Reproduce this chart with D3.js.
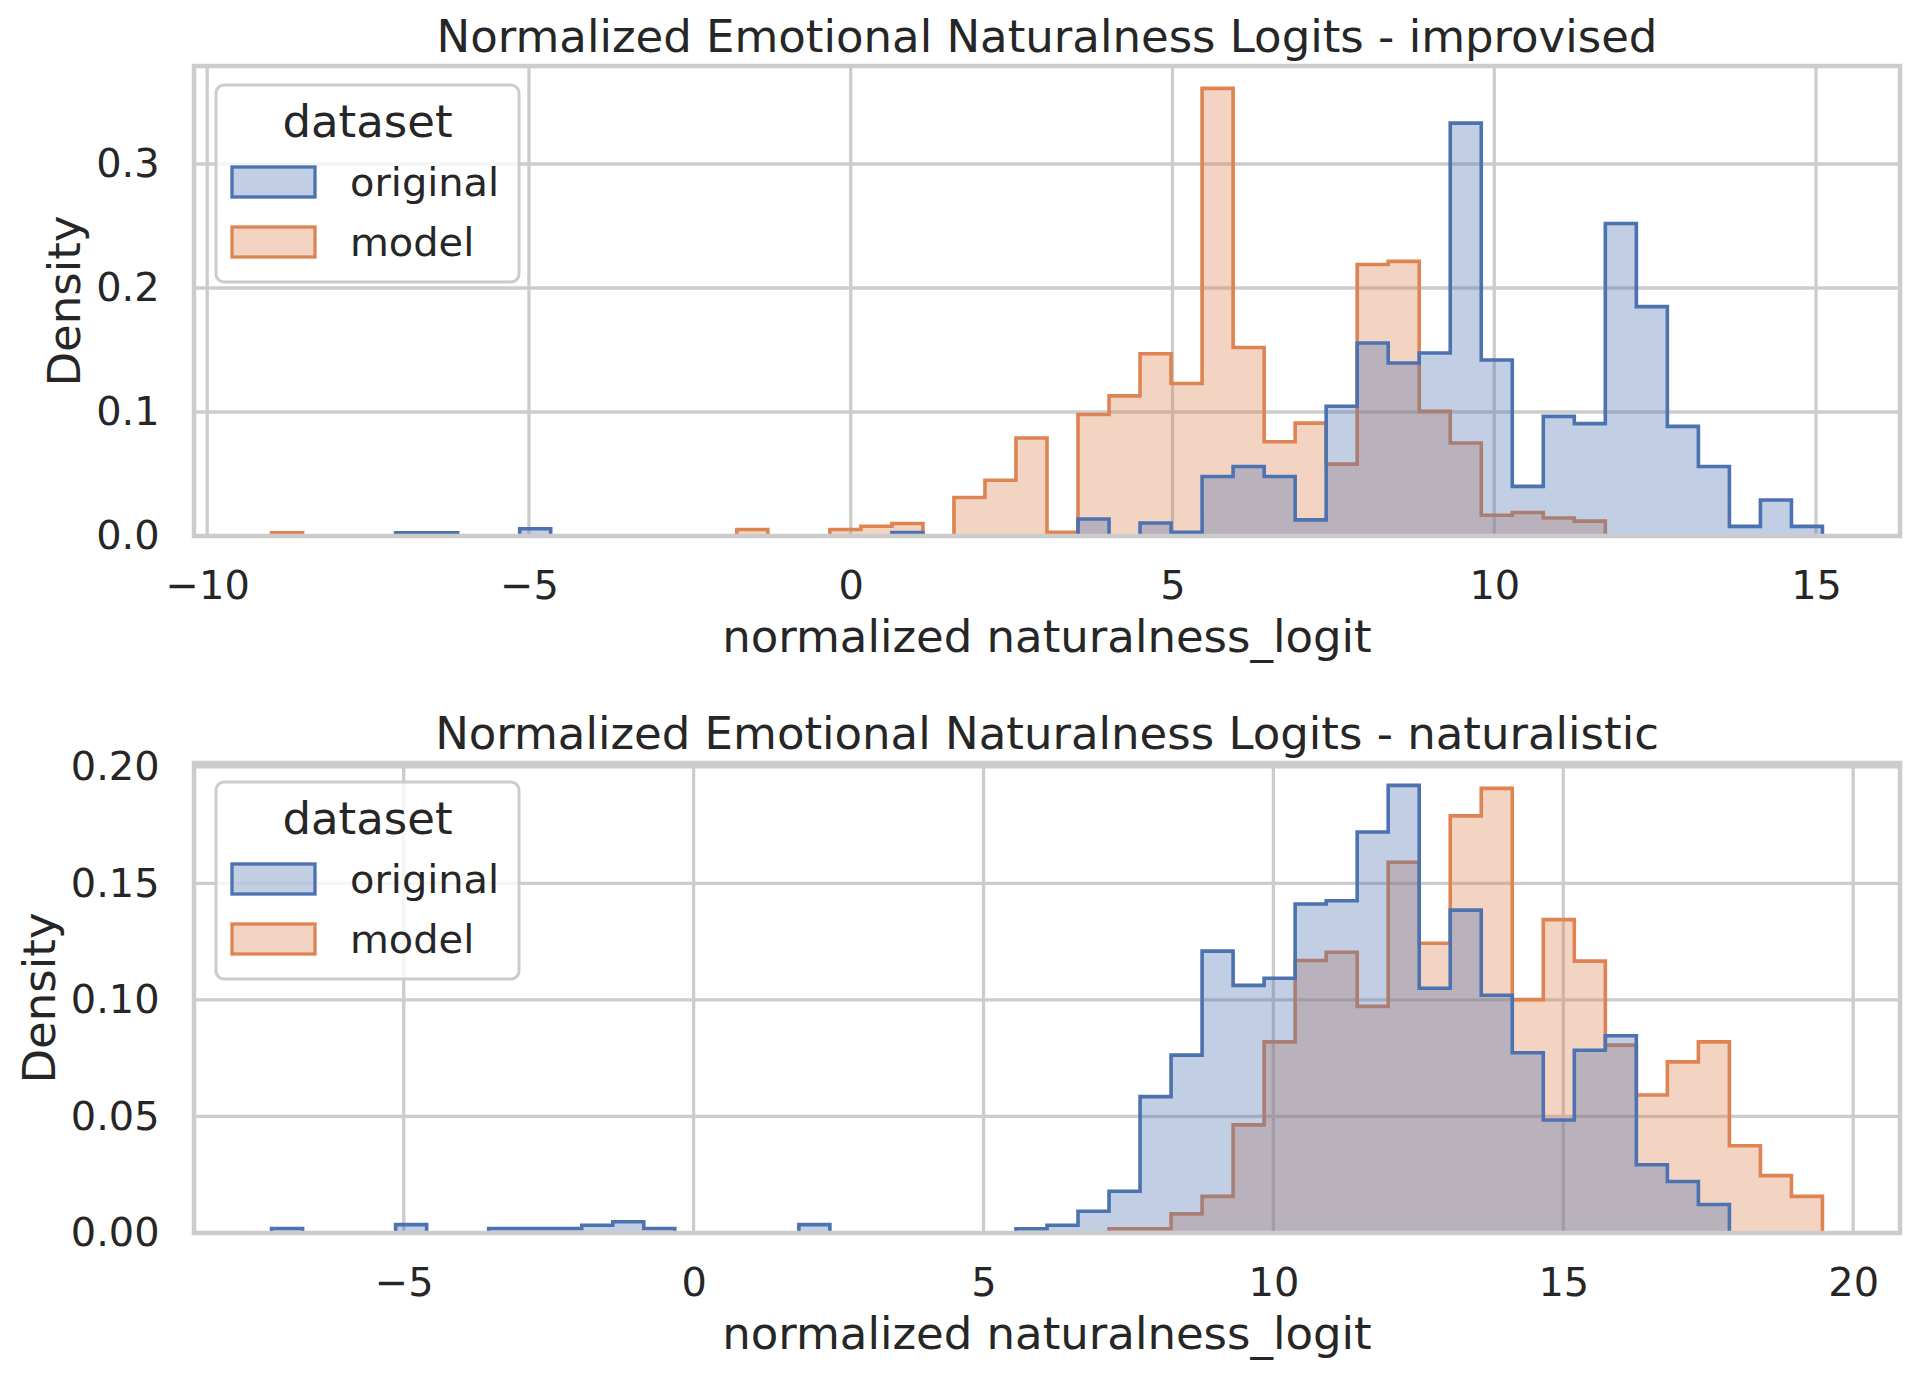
<!DOCTYPE html>
<html>
<head>
<meta charset="utf-8">
<script src="https://cdn.jsdelivr.net/npm/d3@7"></script>
<style>
  body { margin: 0; background: #fff; }
  text { font-family: "DejaVu Sans", sans-serif; fill: #262626; }
</style>
</head>
<body>
<div class="chart"></div>
<script>
// ---------- data (densities per bin, 50 common bins per panel) ----------
const seriesNames = ["original", "model"]

const improvisedEdgeMin = -9.0
const improvisedEdgeMax = 15.1
const improvisedOriginal = [
  0, 0, 0, 0, 0.0026, 0.0026, 0, 0, 0.0058, 0,
  0, 0, 0, 0, 0, 0, 0, 0, 0, 0,
  0.0028, 0, 0, 0, 0, 0, 0.0137, 0, 0.0105, 0.003,
  0.048, 0.056, 0.048, 0.013, 0.1046, 0.1556, 0.1395, 0.1476, 0.333, 0.142,
  0.040, 0.0965, 0.0906, 0.252, 0.185, 0.0884, 0.056, 0.0078, 0.029, 0.0078
]
const improvisedModel = [
  0.0026, 0, 0, 0, 0, 0, 0, 0, 0, 0,
  0, 0, 0, 0, 0, 0.0052, 0, 0, 0.0052, 0.0079,
  0.0101, 0, 0.031, 0.045, 0.079, 0.003, 0.098, 0.113, 0.147, 0.123,
  0.361, 0.152, 0.076, 0.091, 0.058, 0.219, 0.2215, 0.1005, 0.075, 0.0167,
  0.019, 0.0145, 0.012, 0, 0, 0, 0, 0, 0, 0
]
const improvisedXTicks = [-10, -5, 0, 5, 10, 15]
const improvisedYTicks = [0, 0.1, 0.2, 0.3]

const naturalisticEdgeMin = -7.28
const naturalisticEdgeMax = 19.47
const naturalisticOriginal = [
  0.0019, 0, 0, 0, 0.0036, 0, 0, 0.0019, 0.0019, 0.0019,
  0.0033, 0.0048, 0.0019, 0, 0, 0, 0, 0.0036, 0, 0,
  0, 0, 0, 0, 0.0018, 0.0033, 0.0093, 0.0179, 0.0585, 0.0763,
  0.1209, 0.1062, 0.1093, 0.1411, 0.1425, 0.172, 0.192, 0.105, 0.1385, 0.102,
  0.0773, 0.0485, 0.0784, 0.0846, 0.0293, 0.0221, 0.0122, 0, 0, 0
]
const naturalisticModel = [
  0, 0, 0, 0, 0, 0, 0, 0, 0, 0,
  0, 0, 0, 0, 0, 0, 0, 0, 0, 0,
  0, 0, 0, 0, 0, 0, 0, 0.0018, 0.0018, 0.0082,
  0.0157, 0.0464, 0.082, 0.1169, 0.1204, 0.0972, 0.159, 0.1243, 0.1789, 0.1907,
  0.1001, 0.1344, 0.1166, 0.0806, 0.0592, 0.0734, 0.082, 0.0374, 0.0246, 0.0157
]
const naturalisticXTicks = [-5, 0, 5, 10, 15, 20]
const naturalisticYTicks = [0, 0.05, 0.10, 0.15, 0.20]

// ---------- layout ----------
const W = 1918, H = 1377
const colors = { original: "#4C72B0", model: "#DD8452" }
const gridColor = "#cccccc"
const fillAlpha = 0.35
const tickPad = 34.4
const bigFont = "45px"
const smallFont = "39.9px"

const svg = d3.select(".chart").append("svg")
  .attr("width", W).attr("height", H)
  .style("display", "block")

const minus = (v) => String(v).replace("-", "\u2212")

function drawPanel(p) {
  const left = 194, right = 1900
  const g = svg.append("g")

  const n = p.original.length
  const binW = (p.edgeMax - p.edgeMin) / n
  const edges = d3.range(n + 1).map((i) => p.edgeMin + i * binW)
  const span = p.edgeMax - p.edgeMin
  const ymax = d3.max(p.original.concat(p.model)) * 1.05

  const x = d3.scaleLinear()
    .domain([p.edgeMin - span * 0.05, p.edgeMax + span * 0.05])
    .range([left, right])
  const y = d3.scaleLinear()
    .domain([0, ymax])
    .range([p.bottom, p.top])

  // grid
  g.selectAll(".gx").data(p.xTicks).enter().append("line")
    .attr("x1", (d) => x(d)).attr("x2", (d) => x(d))
    .attr("y1", p.top).attr("y2", p.bottom)
    .attr("stroke", gridColor).attr("stroke-width", 3.3)
  g.selectAll(".gy").data(p.yTicks).enter().append("line")
    .attr("x1", left).attr("x2", right)
    .attr("y1", (d) => y(d)).attr("y2", (d) => y(d))
    .attr("stroke", gridColor).attr("stroke-width", 3.3)

  // step histograms, model first so original sits on top
  const stepLine = d3.line().x((d) => x(d[0])).y((d) => y(d[1]))
  ;["model", "original"].forEach((name) => {
    const vals = p[name]
    let pts = [[edges[0], 0]]
    vals.forEach((v, i) => { pts.push([edges[i], v]); pts.push([edges[i + 1], v]) })
    pts.push([edges[n], 0])
    const c = d3.color(colors[name]); c.opacity = fillAlpha
    g.append("path")
      .attr("d", stepLine(pts) + "Z")
      .attr("fill", c.formatRgb())
      .attr("stroke", colors[name])
      .attr("stroke-width", 3.6)
      .attr("stroke-linejoin", "miter")
  })

  // spines
  g.append("rect")
    .attr("x", left).attr("y", p.top)
    .attr("width", right - left).attr("height", p.bottom - p.top)
    .attr("fill", "none").attr("stroke", gridColor).attr("stroke-width", 4.5)

  // axes
  const xAxis = g.append("g")
    .attr("transform", "translate(0," + p.bottom + ")")
    .call(d3.axisBottom(x).tickValues(p.xTicks).tickSize(0).tickPadding(tickPad).tickFormat(minus))
  const yAxis = g.append("g")
    .attr("transform", "translate(" + left + ",0)")
    .call(d3.axisLeft(y).tickValues(p.yTicks).tickSize(0).tickPadding(tickPad).tickFormat(d3.format(p.yFormat)))
  ;[xAxis, yAxis].forEach((a) => {
    a.select(".domain").remove()
    a.selectAll("text").style("font-size", smallFont).style("font-family", "DejaVu Sans").attr("fill", "#262626")
  })

  const tickLeft = d3.min(yAxis.selectAll("text").nodes(), (t) => t.getBBox().x) + left

  g.append("text")
    .text(p.title)
    .attr("x", (left + right) / 2).attr("y", p.top - 14)
    .attr("text-anchor", "middle").style("font-size", bigFont)
  g.append("text")
    .text("normalized naturalness_logit")
    .attr("x", (left + right) / 2).attr("y", p.bottom + 116)
    .attr("text-anchor", "middle").style("font-size", bigFont)
  g.append("text")
    .text("Density")
    .attr("transform", "translate(" + (tickLeft - 16) + "," + ((p.top + p.bottom) / 2) + ") rotate(-90)")
    .attr("text-anchor", "middle").style("font-size", bigFont)

  // legend
  const lg = g.append("g").attr("transform", "translate(" + (left + 22) + "," + (p.top + 19) + ")")
  lg.append("rect")
    .attr("width", 303).attr("height", 197).attr("rx", 8)
    .attr("fill", "rgba(255,255,255,0.8)").attr("stroke", gridColor).attr("stroke-width", 3)
  lg.append("text").text("dataset")
    .attr("x", 151.5).attr("y", 52)
    .attr("text-anchor", "middle").style("font-size", bigFont)
  seriesNames.forEach((name, i) => {
    const c = d3.color(colors[name]); c.opacity = fillAlpha
    lg.append("rect")
      .attr("x", 16).attr("y", 82 + i * 60).attr("width", 83).attr("height", 30)
      .attr("fill", c.formatRgb()).attr("stroke", colors[name]).attr("stroke-width", 3.3)
    lg.append("text").text(name)
      .attr("x", 134).attr("y", 82 + i * 60 + 29)
      .style("font-size", smallFont)
  })
}

drawPanel({
  title: "Normalized Emotional Naturalness Logits - improvised",
  top: 66, bottom: 536,
  edgeMin: improvisedEdgeMin, edgeMax: improvisedEdgeMax,
  original: improvisedOriginal, model: improvisedModel,
  xTicks: improvisedXTicks, yTicks: improvisedYTicks, yFormat: ".1f"
})
drawPanel({
  title: "Normalized Emotional Naturalness Logits - naturalistic",
  top: 763, bottom: 1233,
  edgeMin: naturalisticEdgeMin, edgeMax: naturalisticEdgeMax,
  original: naturalisticOriginal, model: naturalisticModel,
  xTicks: naturalisticXTicks, yTicks: naturalisticYTicks, yFormat: ".2f"
})
</script>
</body>
</html>
